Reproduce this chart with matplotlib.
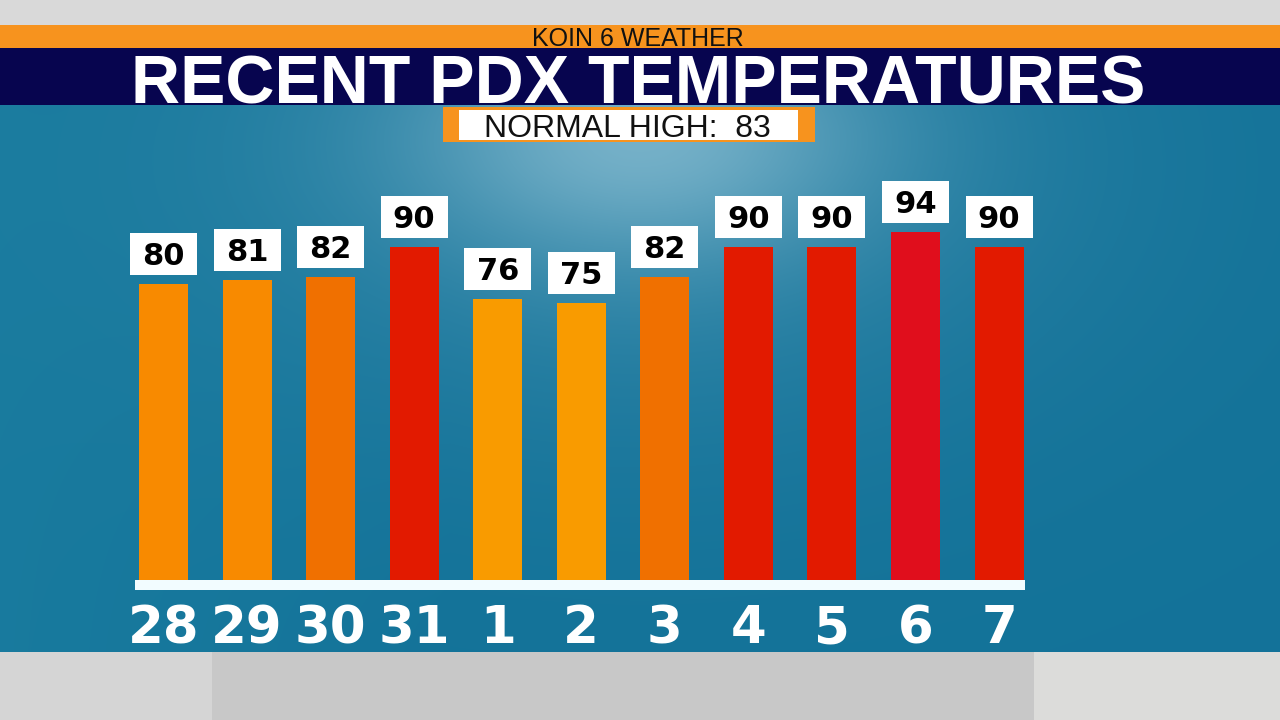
import matplotlib
matplotlib.use('Agg')
import matplotlib.pyplot as plt
import numpy as np
from matplotlib.patches import Rectangle

# ---- data ----
days = ['28', '29', '30', '31', '1', '2', '3', '4', '5', '6', '7']
highs = [80, 81, 82, 90, 76, 75, 82, 90, 90, 94, 90]
bar_colors = ['#F88A00', '#F88A00', '#F07000', '#E21A00', '#F99B00', '#F99B00',
              '#F07000', '#E21A00', '#E21A00', '#E00E1C', '#E21A00']
normal_high = 83
title = 'RECENT PDX TEMPERATURES'
station = 'KOIN 6 WEATHER'

W, H = 1280, 720
fig = plt.figure(figsize=(12.8, 7.2), dpi=100)

# ---- background / frame (pixel coordinates) ----
bg = fig.add_axes([0, 0, 1, 1])
bg.set_xlim(0, W)
bg.set_ylim(H, 0)
bg.axis('off')

yy, xx = np.mgrid[105:652, 0:W].astype(float)
base = np.array([0.075, 0.45, 0.60])
left_tint = np.clip(1 - xx / 450.0, 0, 1)[..., None] * np.array([0.02, 0.03, 0.02])
r2a = ((xx - 640) / 230.0) ** 2 + ((yy - 135) / 120.0) ** 2
r2b = ((xx - 640) / 420.0) ** 2 + ((yy - 170) / 260.0) ** 2
glow = (np.exp(-r2a) * 0.40 + np.exp(-r2b) * 0.18)[..., None]
glow_col = np.array([0.74, 0.87, 0.92])
img = base + left_tint
img = img * (1 - glow) + glow_col * glow
bg.imshow(np.clip(img, 0, 1), extent=(0, W, 652, 105), origin='upper',
          aspect='auto', zorder=0)

bg.add_patch(Rectangle((0, 0), W, 25, fc='#D9D9D9', ec='none', zorder=1))
bg.add_patch(Rectangle((0, 652), W, 68, fc='#C8C8C8', ec='none', zorder=1))
bg.add_patch(Rectangle((0, 652), 212, 68, fc='#D5D5D5', ec='none', zorder=1))
bg.add_patch(Rectangle((1034, 652), 246, 68, fc='#DCDCDA', ec='none', zorder=1))
bg.add_patch(Rectangle((0, 25), W, 23, fc='#F7931E', ec='none', zorder=1))
bg.add_patch(Rectangle((0, 48), W, 57, fc='#07054F', ec='none', zorder=1))
bg.add_patch(Rectangle((443, 107), 372, 35, fc='#F7931E', ec='none', zorder=1))
bg.add_patch(Rectangle((459, 110), 339, 30, fc='white', ec='none', zorder=2))

bg.text(638, 46, station, ha='center', va='baseline', fontsize=18,
        family='Liberation Sans', color='#111111', zorder=3)
bg.text(638.5, 103, title, ha='center', va='baseline', fontsize=49,
        family='Liberation Sans', weight='bold', color='white', zorder=3)
bg.text(627, 137, f'NORMAL HIGH:  {normal_high}', ha='center', va='baseline',
        fontsize=23, family='Liberation Sans', color='#111111', zorder=3)

# ---- chart axes ----
ppd = 3.7  # pixels per degree
ymax = 120
ax_h = ymax * ppd
spacing = 83.55
x0 = 163.5
left_px = x0 - spacing / 2
width_px = spacing * len(days)
ax = fig.add_axes([left_px / W, (H - 580) / H, width_px / W, ax_h / H])
ax.set_xlim(-0.5, len(days) - 0.5)
ax.set_ylim(0, ymax)
ax.axis('off')
ax.patch.set_alpha(0)

x = np.arange(len(days))
ax.bar(x, highs, width=49 / spacing, color=bar_colors, zorder=2)

# baseline
bl_left = (135 - x0) / spacing
bl_right = (1025 - x0) / spacing
ax.add_patch(Rectangle((bl_left, -10 / ppd), bl_right - bl_left, 10 / ppd,
                       fc='#F2FCFF', ec='none', clip_on=False, zorder=3))

box_w = 67 / spacing
for i, v in enumerate(highs):
    b = v + 9 / ppd
    h = 42 / ppd
    ax.add_patch(Rectangle((i - box_w / 2, b), box_w, h, fc='white', ec='none',
                           clip_on=False, zorder=3))
    ax.text(i, b + h / 2 - 11 / ppd, str(v), ha='center', va='baseline',
            fontsize=22, weight='bold', family='DejaVu Sans', color='black',
            zorder=4, clip_on=False)

for i, d in enumerate(days):
    ax.text(i, (580 - 643) / ppd, d, ha='center', va='baseline', fontsize=37,
            weight='bold', family='DejaVu Sans', color='white', zorder=4,
            clip_on=False)

fig.savefig('out.png', dpi=100)
